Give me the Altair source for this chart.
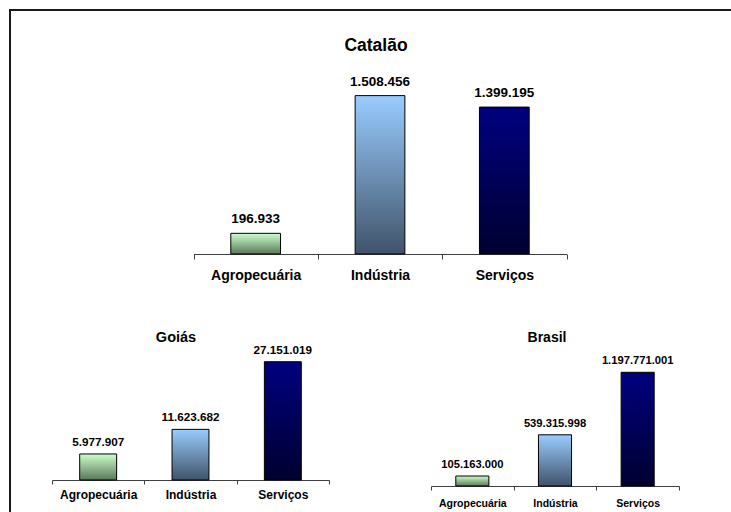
import altair as alt
import pandas as pd

categories = ["Agropecuária", "Indústria", "Serviços"]
catalao_vals = [196933, 1508456, 1399195]
goias_vals = [5977907, 11623682, 27151019]
brasil_vals = [105163000, 539315998, 1197771001]
titles = ["Catalão", "Goiás", "Brasil"]

FONT = "Liberation Sans"
AXIS_COLOR = "#404040"


def grad(top, bottom):
    return alt.LinearGradient(
        gradient="linear",
        stops=[alt.GradientStop(color=top, offset=0), alt.GradientStop(color=bottom, offset=1)],
        x1=0, x2=0, y1=0, y2=1,
    )


gradients = {
    "Agropecuária": grad("#ccffcc", "#5a785a"),
    "Indústria": grad("#99ccff", "#40536a"),
    "Serviços": grad("#000080", "#000030"),
}


def panel(vals, xrange, yrange, ydomain, axis_offset, label_size, tick_size,
          label_pad, value_size, value_dy):
    df = pd.DataFrame({
        "setor": categories,
        "valor": vals,
        "rotulo": [f"{v:,}".replace(",", ".") for v in vals],
    })
    x = alt.X(
        "setor:N", sort=categories,
        scale=alt.Scale(range=xrange, paddingInner=0, paddingOuter=0),
        axis=alt.Axis(orient="bottom", offset=axis_offset, title=None, tickBand="extent",
                      labelAngle=0, labelFont=FONT, labelFontWeight="bold",
                      labelFontSize=label_size, labelColor="black", tickSize=tick_size,
                      labelPadding=label_pad, domainColor=AXIS_COLOR, tickColor=AXIS_COLOR,
                      grid=False),
    )
    y = alt.Y("valor:Q", scale=alt.Scale(domain=ydomain, range=yrange, nice=False, zero=True),
              axis=None)
    base = alt.Chart(df)
    bars = [
        base.transform_filter(alt.datum.setor == c)
        .mark_bar(color=gradients[c], stroke="black", strokeWidth=1,
                  width=alt.RelativeBandSize(0.4))
        .encode(x=x, y=y)
        for c in categories
    ]
    text = base.mark_text(font=FONT, fontWeight="bold", fontSize=value_size,
                          baseline="alphabetic", dy=value_dy, color="black").encode(
        x=x, y=y, text="rotulo:N")
    return alt.layer(*bars, text)


def title_mark(t, size, px, py):
    return alt.Chart(pd.DataFrame({"t": [t]})).mark_text(
        font=FONT, fontWeight="bold", fontSize=size, baseline="middle", align="center",
        color="black").encode(text="t:N", x=alt.value(px), y=alt.value(py))


frame_left = alt.Chart().mark_rule(color="#1a1a1a", strokeWidth=2).encode(
    x=alt.value(10), y=alt.value(10), y2=alt.value(512))
frame_top = alt.Chart().mark_rule(color="#1a1a1a", strokeWidth=2).encode(
    x=alt.value(9), x2=alt.value(731), y=alt.value(10))

cat = panel(catalao_vals, [193.5, 566.5], [254, 86], [0, 1600000], -258,
            14, 5, 9, 13.5, -10)
goi = panel(goias_vals, [52, 329], [480, 349.3], [0, 30000000], -32,
            12, 4, 5, 11.7, -8)
bra = panel(brasil_vals, [431, 679], [486, 362.6], [0, 1300000000], -26,
            10.5, 4, 8, 11.2, -8)

chart = alt.layer(
    frame_left, frame_top,
    title_mark(titles[0], 17.5, 376, 46), cat,
    title_mark(titles[1], 14.5, 176, 338), goi,
    title_mark(titles[2], 14, 547, 338), bra,
).resolve_scale(x="independent", y="independent").properties(
    width=731, height=512, padding=0,
    autosize=alt.AutoSizeParams(type="none"),
).configure_view(stroke=None)

chart.save("out.html", embed_options={"renderer": "svg", "actions": False})
